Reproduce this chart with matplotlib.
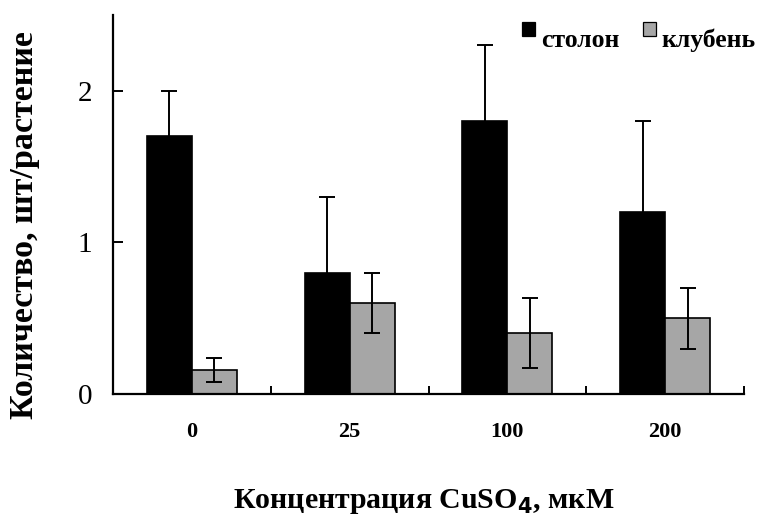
import matplotlib
matplotlib.use("Agg")
import matplotlib.pyplot as plt
import numpy as np
from matplotlib.patches import Rectangle

# Data: number of stolons and tubers per plant vs CuSO4 concentration
concentrations = ["0", "25", "100", "200"]
stolon_mean = [1.7, 0.8, 1.8, 1.2]
stolon_err = [0.3, 0.5, 0.5, 0.6]
tuber_mean = [0.16, 0.6, 0.4, 0.5]
tuber_err = [0.08, 0.2, 0.23, 0.2]
series_names = ["столон", "клубень"]
series_colors = ["black", "#a6a6a6"]
y_ticks = [0, 1, 2]

plt.rcParams["font.family"] = ["Liberation Serif", "DejaVu Serif"]

W, H = 759, 520
fig = plt.figure(figsize=(W / 100, H / 100), dpi=100)
ax = fig.add_axes([113 / W, (H - 394) / H, (744 - 113) / W, (394 - 15) / H])

x = np.arange(len(concentrations))
w = 0.285
err_kw = dict(elinewidth=1.4, capthick=1.4, ecolor="black")
ax.bar(x - w / 2, stolon_mean, w, yerr=stolon_err, color=series_colors[0],
       edgecolor="black", linewidth=1.2, capsize=6, error_kw=err_kw, zorder=2)
ax.bar(x + w / 2, tuber_mean, w, yerr=tuber_err, color=series_colors[1],
       edgecolor="black", linewidth=1.2, capsize=6, error_kw=err_kw, zorder=2)

ax.set_xlim(-0.5, len(concentrations) - 0.5)
ax.set_ylim(0, 2.5)

for side in ("top", "right"):
    ax.spines[side].set_visible(False)
for side in ("left", "bottom"):
    ax.spines[side].set_linewidth(1.6)

ax.set_yticks(y_ticks)
ax.set_yticklabels([str(t) for t in y_ticks], fontsize=21)
ax.tick_params(axis="y", direction="in", length=7, width=1.4, pad=15)

# Category separators as major ticks, labels on minor ticks at group centres
ax.set_xticks(np.arange(len(concentrations) + 1) - 0.5)
ax.set_xticklabels([])
ax.tick_params(axis="x", which="major", direction="in", length=6, width=1.4)
ax.set_xticks(x, minor=True)
ax.set_xticklabels(concentrations, minor=True, fontsize=16, fontweight="bold")
ax.tick_params(axis="x", which="minor", length=0, pad=20)

ax.set_ylabel("Количество, шт/растение", fontsize=24.5, fontweight="bold")
ax.yaxis.label.set_va("baseline")
ax.yaxis.set_label_coords((33 - 113) / 631, 0.445)
ax.set_xlabel("Концентрация CuSO$_\\mathbf{4}$, мкМ", fontsize=21.5, fontweight="bold")
ax.xaxis.label.set_va("baseline")
ax.xaxis.set_label_coords(0.493, (394 - 508) / 379)

# Legend: square swatches followed by bold labels, top right
legend_items = [(522, 541), (643, 661)]
for (sq_x, txt_x), name, col in zip(legend_items, series_names, series_colors):
    fig.patches.append(Rectangle((sq_x / W, (H - 36) / H), 13 / W, 14 / H,
                                 transform=fig.transFigure, facecolor=col,
                                 edgecolor="black", linewidth=0.9))
    fig.text(txt_x / W, (H - 47) / H, name, ha="left", va="baseline",
             fontsize=18.5, fontweight="bold")

fig.savefig("out.png", dpi=100)
